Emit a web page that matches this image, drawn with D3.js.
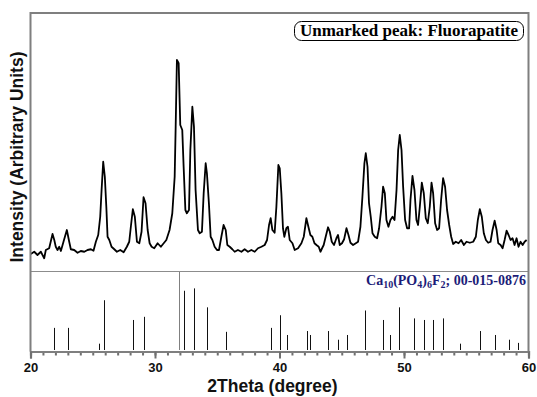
<!DOCTYPE html>
<html>
<head>
<meta charset="utf-8">
<script src="https://cdn.jsdelivr.net/npm/d3@7"></script>
<style>
  body { margin: 0; background: #fff; }
  svg { display: block; }
</style>
</head>
<body>
<div id="xrd"></div>
<script>
// Measured pattern (2theta in degrees, intensity in counts)
const twoTheta = [
  20.02,20.30,20.56,20.83,21.10,21.23,21.50,21.77,21.91,22.03,22.17,22.31,22.44,22.65,22.92,23.11,23.24,23.51,23.78,24.04,
  24.32,24.58,24.85,25.06,25.25,25.44,25.60,25.71,25.84,25.97,26.09,26.19,26.33,26.51,26.73,26.94,27.21,27.48,27.74,27.93,
  28.06,28.22,28.38,28.55,28.74,28.92,29.08,29.24,29.41,29.57,29.73,29.94,30.21,30.47,30.91,31.17,31.39,31.58,31.66,31.76,
  31.90,32.03,32.19,32.30,32.44,32.56,32.73,32.84,33.00,33.13,33.26,33.45,33.59,33.77,33.91,34.07,34.17,34.33,34.47,34.61,
  34.79,34.98,35.14,35.33,35.51,35.68,35.81,36.00,36.21,36.40,36.66,36.94,37.20,37.47,37.74,38.01,38.27,38.55,38.81,39.00,
  39.16,39.29,39.43,39.61,39.75,39.91,40.02,40.15,40.28,40.39,40.55,40.68,40.82,41.04,41.22,41.49,41.76,41.95,42.16,42.32,
  42.48,42.64,42.81,42.97,43.15,43.29,43.42,43.55,43.71,43.90,44.04,44.20,44.38,44.57,44.70,44.84,45.02,45.19,45.38,45.54,
  45.70,45.91,46.13,46.31,46.50,46.66,46.82,46.93,47.07,47.19,47.33,47.47,47.65,47.84,48.00,48.19,48.32,48.46,48.59,48.75,
  48.91,49.08,49.24,49.40,49.53,49.66,49.80,49.93,50.09,50.25,50.41,50.52,50.68,50.84,51.00,51.13,51.27,51.43,51.59,51.75,
  51.91,52.07,52.21,52.34,52.50,52.66,52.82,52.98,53.14,53.30,53.46,53.63,53.79,53.95,54.16,54.38,54.59,54.81,55.02,55.29,
  55.56,55.77,55.93,56.09,56.25,56.41,56.58,56.76,56.95,57.11,57.28,57.44,57.57,57.76,57.92,58.08,58.24,58.40,58.56,58.72,
  58.88,59.04,59.20,59.36,59.53,59.69,59.85
]
const intensity = [
  68,77,64,77,51,84,91,148,124,97,84,97,80,117,164,117,87,84,73,80,
  77,84,87,81,117,144,217,324,437,377,257,137,124,97,87,77,84,75,97,117,
  177,247,217,117,111,157,295,271,164,111,97,91,111,97,124,164,231,377,577,844,
  831,584,564,417,244,231,244,484,657,577,324,164,151,157,311,431,391,271,137,124,
  97,84,84,137,184,164,104,97,87,77,84,77,87,77,84,77,91,97,104,124,
  184,211,164,153,257,424,411,311,171,137,171,177,124,111,84,91,111,137,211,177,
  144,137,111,104,97,77,91,104,137,175,157,117,104,131,144,104,111,127,171,144,
  113,104,111,117,177,297,431,471,417,271,217,151,137,131,171,257,337,311,204,177,
  204,217,204,324,484,544,484,337,204,171,171,284,380,324,204,184,257,353,311,211,
  191,257,353,311,191,164,171,284,371,337,244,184,137,108,117,111,124,104,117,113,
  117,137,204,247,217,151,124,113,117,164,201,164,111,104,91,124,161,144,124,131,
  104,131,97,117,104,117,124
]

// Reference card 00-015-0876 (position, relative intensity %)
const refPos = [21.92,22.99,25.48,25.88,28.20,29.14,31.94,32.29,33.17,34.19,35.68,39.32,40.07,40.60,42.23,42.47,
  43.92,44.66,45.39,46.88,48.35,48.88,49.63,50.81,51.61,52.33,53.13,54.47,56.13,57.33,58.40,59.14]
const refInt = [28,28,8,63,38,42,100,75,78,54,23,28,44,19,24,19,
  24,13,19,50,38,19,54,40,38,38,40,8,24,19,13,9]

const xTicks = [20, 30, 40, 50, 60]

const W = 537, H = 397
const plotL = 30.5, plotR = 528.5, plotT = 13, sepY = 271, plotB = 351.5

const svg = d3.select("#xrd").append("svg")
  .attr("width", W).attr("height", H)

const x = d3.scaleLinear().domain([20, 60]).range([plotL, plotR])
const y = d3.scaleLinear().domain([0, 1032]).range([sepY, plotT])
const yRef = d3.scaleLinear().domain([0, 100]).range([350, sepY])

// ---- sticks ----
svg.append("g")
  .selectAll("line")
  .data(refPos)
  .join("line")
    .attr("x1", d => Math.round(x(d)) + 0.5)
    .attr("x2", d => Math.round(x(d)) + 0.5)
    .attr("y1", yRef(0))
    .attr("y2", (d, i) => yRef(refInt[i]))
    .attr("stroke", (d, i) => refInt[i] === 100 ? "#808080" : "#111")
    .attr("stroke-width", 1)

// ---- measured curve ----
const pts = twoTheta.map((t, i) => [t, intensity[i]])
svg.append("path")
  .datum(pts)
  .attr("fill", "none")
  .attr("stroke", "#000")
  .attr("stroke-width", 1.8)
  .attr("stroke-linejoin", "round")
  .attr("d", d3.line().x(d => x(d[0])).y(d => y(d[1])))

// ---- frame and separator ----
svg.append("line")
  .attr("x1", plotL).attr("x2", plotR)
  .attr("y1", sepY + 0.5).attr("y2", sepY + 0.5)
  .attr("stroke", "#8c8c8c").attr("stroke-width", 1)

svg.append("path")
  .attr("d", `M${plotL},${plotB}V${plotT}H${plotR}V${plotB}`)
  .attr("fill", "none")
  .attr("stroke", "#7f7f7f")
  .attr("stroke-width", 2)

// ---- x axis ----
const minor = svg.append("g")
  .attr("transform", `translate(0,${plotB})`)
  .call(d3.axisBottom(x).tickValues(d3.range(20, 61)).tickSize(4).tickFormat(""))
const major = svg.append("g")
  .attr("transform", `translate(0,${plotB})`)
  .call(d3.axisBottom(x).tickValues(xTicks).tickSize(7).tickPadding(4).tickFormat(d3.format("d")))

for (const g of [minor, major]) {
  g.select(".domain").attr("stroke", "#7f7f7f").attr("stroke-width", 2.2)
  g.selectAll(".tick line").attr("stroke", "#707070").attr("stroke-width", 2)
}
major.selectAll(".tick text")
  .attr("font-family", "'Liberation Sans', Arial, sans-serif")
  .attr("font-weight", "bold")
  .attr("font-size", 13)
  .attr("fill", "#111")

// ---- titles ----
svg.append("text")
  .attr("x", 272.5).attr("y", 392)
  .attr("text-anchor", "middle")
  .attr("font-family", "'Liberation Sans', Arial, sans-serif")
  .attr("font-weight", "bold")
  .attr("font-size", 17.5)
  .attr("fill", "#111")
  .text("2Theta (degree)")

svg.append("text")
  .attr("transform", "translate(22.5,157) rotate(-90)")
  .attr("text-anchor", "middle")
  .attr("font-family", "'Liberation Sans', Arial, sans-serif")
  .attr("font-weight", "bold")
  .attr("font-size", 17.5)
  .attr("fill", "#111")
  .text("Intensity (Arbitrary Units)")

// ---- legend box ----
svg.append("rect")
  .attr("x", 294.5).attr("y", 21.5)
  .attr("width", 229).attr("height", 19)
  .attr("rx", 7)
  .attr("fill", "#fff")
  .attr("stroke", "#000")
  .attr("stroke-width", 1)
svg.append("text")
  .attr("x", 409).attr("y", 36)
  .attr("text-anchor", "middle")
  .attr("font-family", "'Liberation Serif', 'Times New Roman', serif")
  .attr("font-weight", "bold")
  .attr("font-size", 17)
  .attr("fill", "#000")
  .text("Unmarked peak: Fluorapatite")

// ---- card label ----
const card = svg.append("text")
  .attr("x", 526).attr("y", 285)
  .attr("text-anchor", "end")
  .attr("font-family", "'Liberation Serif', 'Times New Roman', serif")
  .attr("font-weight", "bold")
  .attr("font-size", 14)
  .attr("fill", "#1c1c78")
const parts = [["Ca", 0], ["10", 1], ["(PO", 0], ["4", 1], [")", 0], ["6", 1], ["F", 0], ["2", 1], ["; 00-015-0876", 0]]
let shift = 0
parts.forEach(([s, sub]) => {
  const target = sub ? 3 : 0
  card.append("tspan")
    .attr("font-size", sub ? 10 : 14)
    .attr("dy", target - shift)
    .text(s)
  shift = target
})
</script>
</body>
</html>
